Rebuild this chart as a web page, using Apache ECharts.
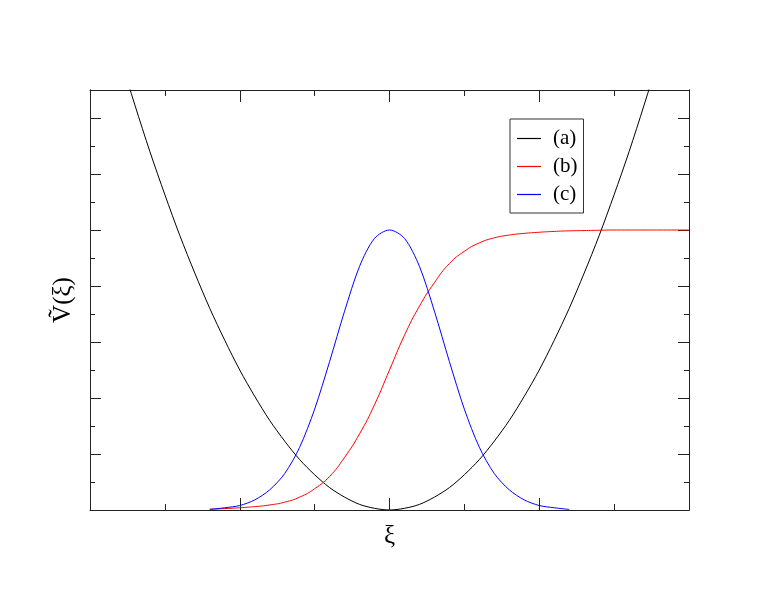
<!DOCTYPE html>
<html>
<head>
<meta charset="utf-8">
<script src="https://cdn.jsdelivr.net/npm/echarts@6/dist/echarts.min.js"></script>
<style>html,body{margin:0;padding:0;background:#fff;}#c{width:776px;height:600px;}</style>
</head>
<body>
<div id="c"></div>
<script>
// Data
const seriesNames = ['(a)', '(b)', '(c)'];
const xsA = [-2.0,-1.9,-1.8,-1.7,-1.6,-1.5,-1.4,-1.3,-1.2,-1.1,-1.0,-0.9,-0.8,-0.7,-0.6,-0.5,-0.4,-0.3,-0.2,-0.1,0,0.1,0.2,0.3,0.4,0.5,0.6,0.7,0.8,0.9,1.0,1.1,1.2,1.3,1.4,1.5,1.6,1.7,1.8,1.9,2.0];
const ysA = [10.0,9.03,8.1,7.23,6.4,5.63,4.9,4.23,3.6,3.03,2.5,2.03,1.6,1.23,0.9,0.63,0.4,0.23,0.1,0.03,0,0.03,0.1,0.23,0.4,0.63,0.9,1.23,1.6,2.03,2.5,3.03,3.6,4.23,4.9,5.63,6.4,7.23,8.1,9.03,10.0];
const xsB = [-1.2,-1.1,-1.0,-0.9,-0.8,-0.7,-0.6,-0.5,-0.4,-0.3,-0.2,-0.1,0,0.1,0.2,0.3,0.4,0.5,0.6,0.7,0.8,0.9,1.0,1.1,1.2,1.3,1.4,1.5,1.6,1.7,1.8,1.9,2.0];
const ysB = [0.015,0.025,0.04,0.06,0.09,0.14,0.23,0.38,0.6,0.94,1.36,1.88,2.5,3.12,3.64,4.06,4.4,4.62,4.77,4.86,4.91,4.94,4.96,4.975,4.985,4.99,4.995,5.0,5.0,5.0,5.0,5.0,5.0];
const xsC = [-1.2,-1.1,-1.0,-0.9,-0.8,-0.7,-0.6,-0.5,-0.4,-0.3,-0.2,-0.1,0,0.1,0.2,0.3,0.4,0.5,0.6,0.7,0.8,0.9,1.0,1.1,1.2];
const ysC = [0.01,0.04,0.08,0.18,0.36,0.65,1.12,1.8,2.65,3.55,4.35,4.85,5.0,4.85,4.35,3.55,2.65,1.8,1.12,0.65,0.36,0.18,0.08,0.04,0.01];
const xAxisName = 'ξ';
const yAxisName = '\u1E7C(ξ)';

const pairs = (xs, ys) => xs.map((x, i) => [x, ys[i]]);
const serif = 'Liberation Serif';
const axisCol = '#222';

function xAx(pos, len, showName) {
  return {
    type: 'value', position: pos, min: -2, max: 2, interval: 1,
    name: showName ? xAxisName : '', nameLocation: 'middle', nameGap: 14,
    nameTextStyle: { fontFamily: serif, fontSize: 25, color: '#000' },
    axisLine: { show: true, onZero: false, lineStyle: { color: axisCol, width: 1 } },
    axisTick: { show: true, inside: true, length: len, lineStyle: { color: axisCol } },
    minorTick: { show: true, splitNumber: 2, length: 6, lineStyle: { color: axisCol } },
    axisLabel: { show: false }, splitLine: { show: false }
  };
}
function yAx(pos, interval, len, showName) {
  return {
    type: 'value', position: pos, min: 0, max: 7.5, interval: interval,
    name: showName ? yAxisName : '', nameLocation: 'middle', nameGap: 14, nameRotate: 90,
    nameTextStyle: { fontFamily: serif, fontSize: 25, color: '#000' },
    axisLine: { show: true, onZero: false, lineStyle: { color: axisCol, width: 1 } },
    axisTick: { show: true, inside: true, length: len, lineStyle: { color: axisCol } },
    axisLabel: { show: false }, splitLine: { show: false }
  };
}

const chart = echarts.init(document.getElementById('c'), null, { renderer: 'canvas' });
chart.setOption({
  backgroundColor: '#fff',
  animation: false,
  grid: { left: 90, top: 90, right: 87, bottom: 90 },
  xAxis: [xAx('bottom', 12, true), xAx('top', 12, false)],
  yAxis: [yAx('left', 1, 11, true), yAx('left', 0.5, 5, false), yAx('right', 1, 11, false), yAx('right', 0.5, 5, false)],
  legend: {
    orient: 'vertical', left: 510, top: 119,
    borderColor: '#333', borderWidth: 1, borderRadius: 0,
    padding: [9, 6, 8, 7], itemGap: 7, itemWidth: 24, itemHeight: 1.2,
    icon: 'rect',
    textStyle: { fontFamily: serif, fontSize: 21, color: '#000', padding: [0, 0, 0, 7], lineHeight: 21 },
    data: seriesNames
  },
  series: [
    { name: seriesNames[0], type: 'line', data: pairs(xsA, ysA), smooth: 0.3, showSymbol: false, symbol: 'none', color: '#000', lineStyle: { color: '#000', width: 1 }, clip: true },
    { name: seriesNames[1], type: 'line', data: pairs(xsB, ysB), smooth: 0.5, showSymbol: false, symbol: 'none', color: '#ff0000', lineStyle: { color: '#ff0000', width: 1 }, clip: true },
    { name: seriesNames[2], type: 'line', data: pairs(xsC, ysC), smooth: 0.3, showSymbol: false, symbol: 'none', color: '#0000ff', lineStyle: { color: '#0000ff', width: 1 }, clip: true }
  ]
});
</script>
</body>
</html>
